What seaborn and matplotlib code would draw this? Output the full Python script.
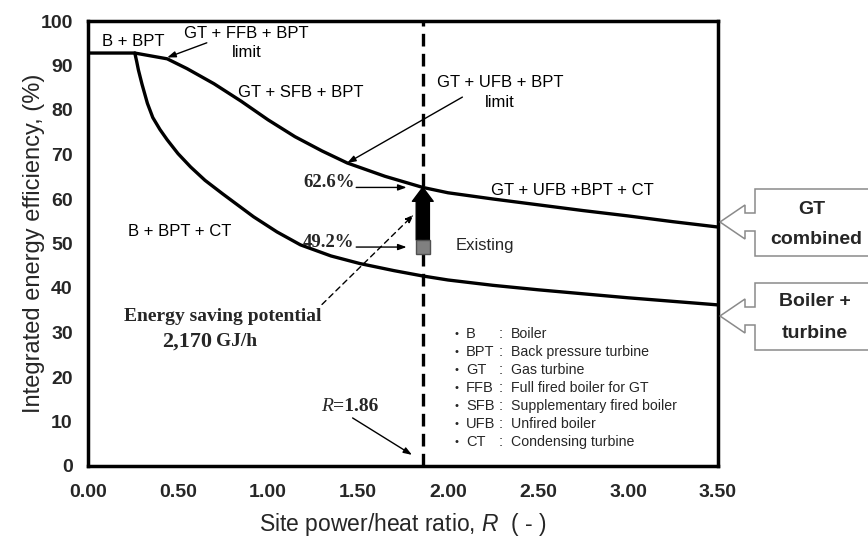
import matplotlib
matplotlib.use('Agg')
import matplotlib.pyplot as plt
import seaborn as sns
import pandas as pd
from matplotlib.patches import Polygon
from matplotlib import font_manager

# curve: GT combined (B + BPT flat part first)
r_upper = [0.00, 0.26, 0.44, 0.55, 0.70, 0.85, 1.00, 1.15, 1.30, 1.44, 1.65, 1.86,
           2.00, 2.25, 2.50, 2.75, 3.00, 3.25, 3.50]
eff_upper = [92.8, 92.8, 91.5, 89.3, 85.9, 82.0, 77.8, 74.0, 70.8, 68.1, 65.1, 62.6,
             61.4, 60.0, 58.7, 57.4, 56.2, 54.9, 53.7]

# boiler + turbine curve
r_lower = [0.26, 0.27, 0.28, 0.30, 0.33, 0.36, 0.40, 0.44, 0.50, 0.57, 0.65, 0.75, 0.92,
           1.05, 1.18, 1.35, 1.51, 1.70, 1.86, 2.00, 2.25, 2.50, 2.75, 3.00, 3.25, 3.50]
eff_lower = [92.8, 91.0, 89.0, 85.8, 81.5, 78.3, 75.6, 73.3, 70.2, 67.2, 64.2, 61.1, 56.0,
             52.6, 49.7, 47.2, 45.5, 43.9, 42.7, 41.8, 40.6, 39.6, 38.7, 37.8, 37.0, 36.2]

r_site = 1.86
eff_target = 62.6
eff_existing = 49.2

legend_abbr = ['B', 'BPT', 'GT', 'FFB', 'SFB', 'UFB', 'CT']
legend_desc = ['Boiler', 'Back pressure turbine', 'Gas turbine', 'Full fired boiler for GT',
               'Supplementary fired boiler', 'Unfired boiler', 'Condensing turbine']

x_ticks = [0.0, 0.5, 1.0, 1.5, 2.0, 2.5, 3.0, 3.5]
y_ticks = [0, 10, 20, 30, 40, 50, 60, 70, 80, 90, 100]

sns.set_style('white')
plt.rcParams['font.family'] = ['Liberation Sans', 'DejaVu Sans']
plt.rcParams['mathtext.fontset'] = 'custom'
plt.rcParams['mathtext.it'] = 'Liberation Sans:italic'
plt.rcParams['mathtext.rm'] = 'Liberation Sans'

names = {f.name for f in font_manager.fontManager.ttflist}
narrow = 'Liberation Sans Narrow' if 'Liberation Sans Narrow' in names else 'Liberation Sans'
serif = 'Liberation Serif'

W, H = 868, 539
fig = plt.figure(figsize=(W / 100, H / 100), dpi=100)
ax = fig.add_axes([88 / W, 1 - 466 / H, (718 - 88) / W, (466 - 21) / H])

df_up = pd.DataFrame({'R': r_upper, 'eff': eff_upper})
df_lo = pd.DataFrame({'R': r_lower, 'eff': eff_lower})
sns.lineplot(data=df_up, x='R', y='eff', color='black', lw=2.4, ax=ax, zorder=3)
sns.lineplot(data=df_lo, x='R', y='eff', color='black', lw=2.4, ax=ax, zorder=3)

ax.axvline(r_site, color='black', lw=2.4, ls=(0, (3.8, 2.2)), zorder=2)

ax.set_xlim(0, 3.5)
ax.set_ylim(0, 100)
ax.set_xticks(x_ticks)
ax.set_xticklabels([f'{t:.2f}' for t in x_ticks])
ax.set_yticks(y_ticks)
ax.tick_params(direction='out', length=5, width=1.5, color='black')
ax.tick_params(axis='x', pad=8)
ax.tick_params(axis='y', pad=6)
for lab in ax.get_xticklabels() + ax.get_yticklabels():
    lab.set_fontfamily(narrow)
    lab.set_fontweight('bold')
    lab.set_fontsize(14)
for sp in ax.spines.values():
    sp.set_linewidth(2.5)
    sp.set_color('black')

ax.set_xlabel('Site power/heat ratio, $R$  ( - )', fontsize=16.5)
ax.set_ylabel('Integrated energy efficiency, (%)', fontsize=17)
ax.xaxis.set_label_coords(0.5, -0.10)
ax.yaxis.set_label_coords(-0.068, 0.5)

# region labels
lbl = dict(fontsize=12, ha='center', va='center', color='black')
ax.text(0.25, 95.3, 'B + BPT', **lbl)
ax.text(0.88, 97.3, 'GT + FFB + BPT', **lbl)
ax.text(0.88, 93.0, 'limit', **lbl)
ax.text(1.18, 84.0, 'GT + SFB + BPT', **lbl)
ax.text(2.29, 86.1, 'GT + UFB + BPT', **lbl)
ax.text(2.29, 81.6, 'limit', **lbl)
ax.text(2.69, 62.0, 'GT + UFB +BPT + CT', **lbl)
ax.text(0.51, 52.6, 'B + BPT + CT', **lbl)
ax.text(2.04, 49.6, 'Existing', fontsize=12, ha='left', va='center')

thin = dict(arrowstyle='-|>,head_length=0.5,head_width=0.18', color='black', lw=1, shrinkA=0, shrinkB=0)
ax.annotate('', xy=(0.44, 91.8), xytext=(0.66, 95.1), arrowprops=thin)
ax.annotate('', xy=(1.44, 68.1), xytext=(2.08, 82.9), arrowprops=thin)

# existing -> target
ax.plot([r_site], [eff_existing], marker='s', ms=10.5, mfc='#808080', mec='#505050', mew=1, zorder=5)
ax.annotate('', xy=(r_site, eff_target), xytext=(r_site, eff_existing + 1.6),
            arrowprops=dict(arrowstyle='simple,head_length=1.0,head_width=1.5,tail_width=0.95',
                            fc='black', ec='black', mutation_scale=10, shrinkA=0, shrinkB=0), zorder=4)

for val in (eff_target, eff_existing):
    ax.text(1.48, val, f'{val:.1f}%', family=serif, fontweight='bold', fontsize=13.5,
            ha='right', va='baseline')
    ax.annotate('', xy=(1.77, val), xytext=(1.49, val), arrowprops=thin)

# energy saving potential
ax.text(0.75, 33.6, 'Energy saving potential', family=serif, fontweight='bold', fontsize=14,
        ha='center', va='center')
ax.text(0.69, 27.9, '2,170', family=serif, fontweight='bold', fontsize=16, ha='right', va='center')
ax.text(0.71, 27.9, 'GJ/h', family=serif, fontweight='bold', fontsize=14, ha='left', va='center')
ax.annotate('', xy=(1.81, 56.5), xytext=(1.30, 36.3),
            arrowprops=dict(arrowstyle='-|>,head_length=0.5,head_width=0.18', color='black',
                            lw=1, ls=(0, (4, 3)), shrinkA=0, shrinkB=0))

# R = 1.86 marker
ax.text(1.36, 13.3, 'R', family=serif, style='italic', fontsize=14, ha='right', va='center')
ax.text(1.36, 13.3, f'={r_site:.2f}', family=serif, fontweight='bold', fontsize=14, ha='left', va='center')
ax.annotate('', xy=(1.80, 2.5), xytext=(1.47, 10.8), arrowprops=thin)

# abbreviations list
row0, step = 29.7, 4.05
for i, (a, d) in enumerate(zip(legend_abbr, legend_desc)):
    y = row0 - i * step
    ax.text(2.05, y, '•', fontsize=8, ha='center', va='center')
    ax.text(2.10, y, a, fontsize=10.5, ha='left', va='center')
    ax.text(2.29, y, ':', fontsize=10.5, ha='center', va='center')
    ax.text(2.35, y, d, fontsize=10.2, ha='left', va='center')


# callout boxes on the right (pixel layout of the reference)
def callout(yc):
    pts = [(880, yc - 33), (755, yc - 33), (755, yc - 9), (745, yc - 9), (745, yc - 17),
           (720, yc), (745, yc + 17), (745, yc + 9), (755, yc + 9), (755, yc + 34), (880, yc + 34)]
    poly = Polygon([(x / W, 1 - y / H) for x, y in pts], closed=False, transform=fig.transFigure,
                   facecolor='white', edgecolor='#8a8a8a', lw=1.1, clip_on=False)
    fig.add_artist(poly)


callout(222)
callout(316)
box = dict(fontsize=14, fontweight='bold', ha='center', va='center', transform=fig.transFigure)
fig.text(812 / W, 1 - 209 / H, 'GT', **box)
fig.text(816 / W, 1 - 239 / H, 'combined', **box)
fig.text(815 / W, 1 - 302 / H, 'Boiler +', **box)
fig.text(815 / W, 1 - 333 / H, 'turbine', **box)

fig.savefig('out.png', dpi=100, facecolor='white')
